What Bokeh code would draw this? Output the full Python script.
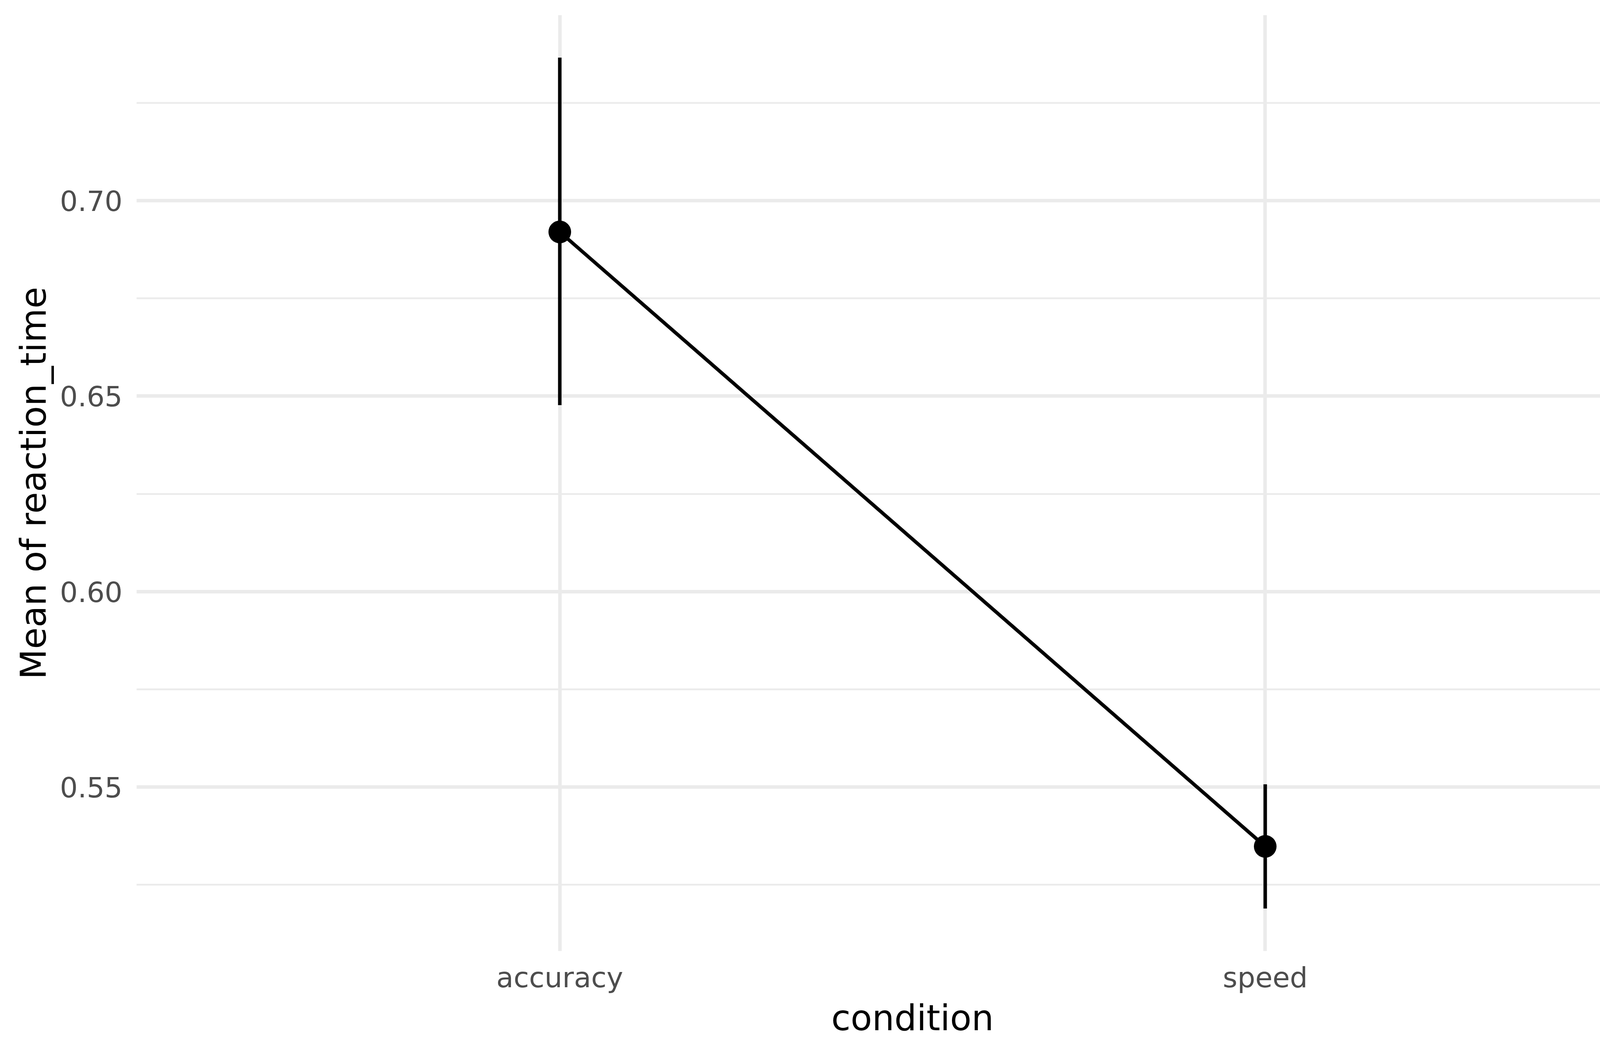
from bokeh.plotting import figure
from bokeh.models import Range1d, FixedTicker, PrintfTickFormatter, ColumnDataSource
from bokeh.embed import file_html
from bokeh.resources import INLINE

# Data
conditions = ["accuracy", "speed"]
mean_rt = [0.692, 0.5348]
lower_rt = [0.6477, 0.5189]
upper_rt = [0.7366, 0.5507]
y_major_ticks = [0.55, 0.60, 0.65, 0.70]
y_minor_ticks = [0.525, 0.575, 0.625, 0.675, 0.725]

xpos = [i + 1 for i in range(len(conditions))]
src = ColumnDataSource(dict(x=xpos, cond=conditions, mean=mean_rt, lo=lower_rt, hi=upper_rt))

# ggplot-like expansion
data_lo = min(lower_rt)
data_hi = max(upper_rt)
span = data_hi - data_lo
y_range = Range1d(data_lo - 0.05 * span, data_hi + 0.05 * span)
x_range = Range1d(1 - 0.6, len(conditions) + 0.6)

FONT = "DejaVu Sans"

p = figure(width=4355, height=2683, x_range=x_range, y_range=y_range,
           output_backend="svg", toolbar_location=None,
           min_border_left=349, min_border_right=33, min_border_top=38, min_border_bottom=249)
p.outline_line_color = None
p.background_fill_color = "white"
p.border_fill_color = "white"

# axes
p.xaxis.ticker = FixedTicker(ticks=xpos)
p.xaxis.major_label_overrides = {x: c for x, c in zip(xpos, conditions)}
p.yaxis.ticker = FixedTicker(ticks=y_major_ticks, minor_ticks=y_minor_ticks)
p.yaxis.formatter = PrintfTickFormatter(format="%.2f")

for ax in (p.xaxis[0], p.yaxis[0]):
    ax.axis_line_color = None
    ax.major_tick_line_color = None
    ax.minor_tick_line_color = None
    ax.major_tick_out = 0
    ax.major_tick_in = 0
    ax.major_label_text_font = FONT
    ax.major_label_text_font_size = "72px"
    ax.major_label_text_color = "#4D4D4D"
    ax.axis_label_text_font = FONT
    ax.axis_label_text_font_size = "90px"
    ax.axis_label_text_font_style = "normal"
    ax.axis_label_text_color = "black"

p.xaxis.axis_label = "condition"
p.yaxis.axis_label = "Mean of reaction_time"
p.yaxis.major_label_standoff = 32
p.yaxis.axis_label_standoff = 12
p.xaxis.major_label_standoff = 25
p.xaxis.axis_label_standoff = 6

# grid
p.xgrid.grid_line_color = "#EBEBEB"
p.xgrid.grid_line_width = 9
p.ygrid.grid_line_color = "#EBEBEB"
p.ygrid.grid_line_width = 9
p.ygrid.minor_grid_line_color = "#EBEBEB"
p.ygrid.minor_grid_line_width = 4.5

# marks
p.segment(x0="x", y0="lo", x1="x", y1="hi", source=src, line_color="black", line_width=9)
p.line(x="x", y="mean", source=src, line_color="black", line_width=9)
p.scatter(x="x", y="mean", source=src, size=58, fill_color="black", line_color=None)

open("out.html", "w").write(file_html(p, INLINE))
